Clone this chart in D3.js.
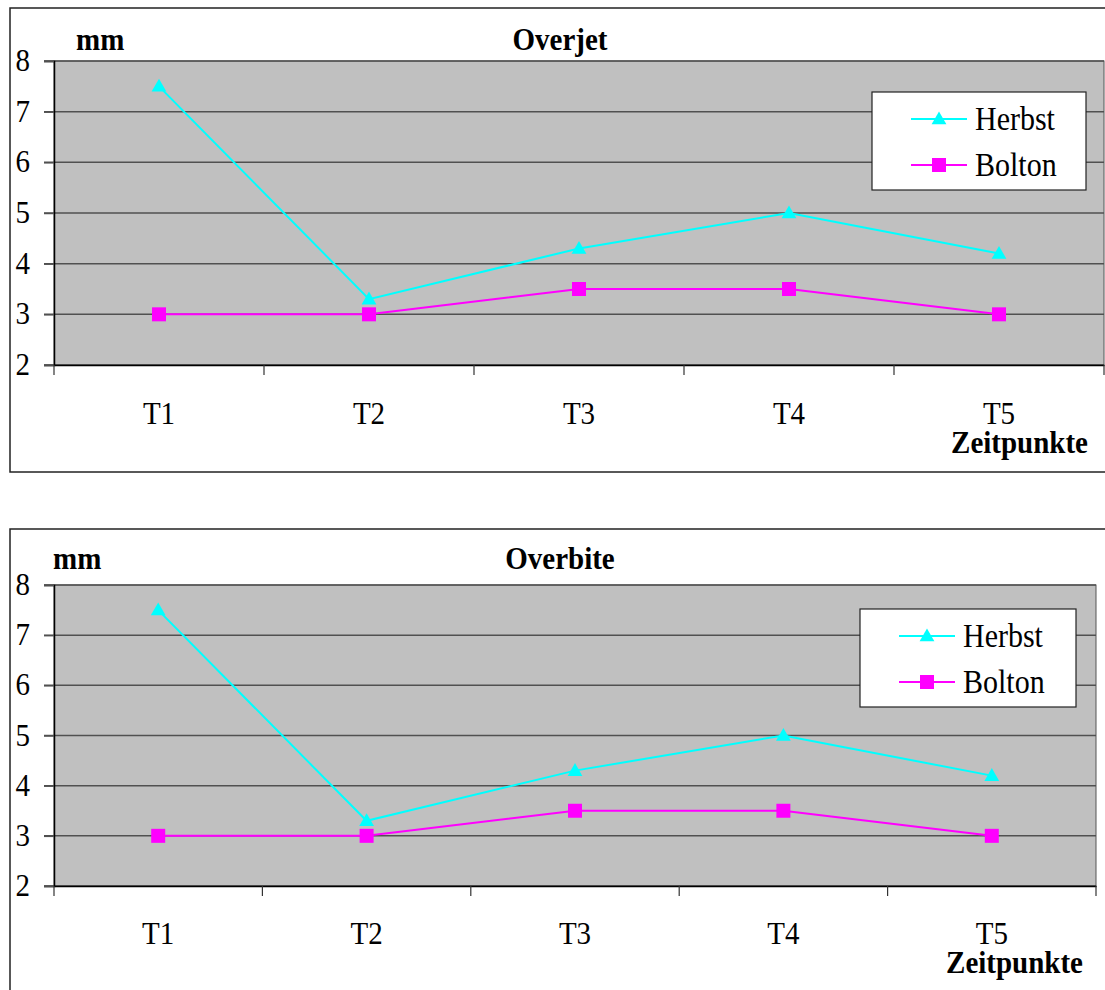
<!DOCTYPE html>
<html><head><meta charset="utf-8">
<script src="https://cdn.jsdelivr.net/npm/d3@7"></script>
<style>
html,body{margin:0;padding:0;background:#fff;}
svg{display:block;}
svg text{font-family:'Liberation Serif','Tinos','Times New Roman',Times,'DejaVu Serif',serif !important;fill:#000;}
</style></head>
<body>
<svg id="chart" width="1105" height="990"></svg>
<script>
const categories = ["T1","T2","T3","T4","T5"];
const herbst = [7.5, 3.3, 4.3, 5.0, 4.2];
const bolton = [3.0, 3.0, 3.5, 3.5, 3.0];
const seriesNames = ["Herbst","Bolton"];
const yTicks = [2,3,4,5,6,7,8];
const chartTitles = ["Overjet","Overbite"];
const yUnit = "mm";
const xTitle = "Zeitpunkte";

const layouts = [
  {box:[10,8,1110,464], plot:{l:54,t:61,r:1104,b:365}, titleY:50, mmX:76, legend:[872,92,214,98], tY:424, zeitY:453, zeitX:1088},
  {box:[10,529,1110,480], plot:{l:54,t:585,r:1096,b:886}, titleY:569, mmX:53, legend:[860,609,216,98], tY:944, zeitY:973, zeitX:1083}
];

const svg = d3.select("#chart");
const FS = 29;
const SY = 1.1;
const FAM = "'Liberation Serif','Tinos','Times New Roman',Times,'DejaVu Serif',serif";
const colors = {Herbst:"#00ffff", Bolton:"#ff00ff"};

function marker(g, type, x, y){
  if(type==="Herbst"){
    g.append("path").attr("d", d3.symbol().type(d3.symbolTriangle).size(95)())
      .attr("transform",`translate(${x},${y+1})`).attr("fill",colors.Herbst);
  } else {
    g.append("rect").attr("x",x-7).attr("y",y-7).attr("width",14).attr("height",14).attr("fill",colors.Bolton);
  }
}

function txt(g, x, y, s, opts={}){
  return g.append("text").attr("x",0).attr("y",0)
    .attr("transform",`translate(${x},${y}) scale(1,${SY})`)
    .attr("font-family",FAM).attr("font-size",opts.size||FS)
    .attr("font-weight",opts.bold?"bold":"normal")
    .attr("text-anchor",opts.anchor||"start").text(s);
}

layouts.forEach((L, i) => {
  const g = svg.append("g");
  const p = L.plot;
  g.append("rect").attr("x",L.box[0]).attr("y",L.box[1]).attr("width",L.box[2]).attr("height",L.box[3])
    .attr("fill","#fff").attr("stroke","#222").attr("stroke-width",1.5);

  const x = d3.scaleBand().domain(categories).range([p.l,p.r]);
  const y = d3.scaleLinear().domain([2,8]).range([p.b,p.t]);

  g.append("rect").attr("x",p.l).attr("y",p.t).attr("width",p.r-p.l).attr("height",p.b-p.t)
    .attr("fill","#c0c0c0").attr("stroke","#555").attr("stroke-width",1);

  // gridlines
  g.append("g").selectAll("line").data(yTicks).join("line")
    .attr("x1",p.l-10).attr("x2",p.r).attr("y1",d=>y(d)).attr("y2",d=>y(d))
    .attr("stroke","#505050").attr("stroke-width",1.5);

  // y axis
  const ya = g.append("g").attr("transform",`translate(${p.l},0)`)
    .call(d3.axisLeft(y).tickValues(yTicks).tickSize(10).tickFormat(""));
  ya.select(".domain").attr("stroke","#000").attr("stroke-width",1.5);
  ya.selectAll(".tick line").attr("stroke","#505050").attr("stroke-width",1.5);
  yTicks.forEach(t => txt(g, p.l-24, y(t)+10, d3.format("d")(t), {anchor:"end"}));

  // x axis
  const xa = g.append("g").attr("transform",`translate(0,${p.b})`)
    .call(d3.axisBottom(x).tickSize(0).tickFormat(""));
  xa.select(".domain").attr("stroke","#000").attr("stroke-width",1.5);
  const bounds = categories.map(c=>x(c)).concat([p.r]);
  g.append("g").selectAll("line").data(bounds).join("line")
    .attr("x1",d=>d).attr("x2",d=>d).attr("y1",p.b).attr("y2",p.b+10)
    .attr("stroke","#333").attr("stroke-width",1.2);
  categories.forEach(c => txt(g, x(c)+x.bandwidth()/2, L.tY, c, {anchor:"middle"}));

  // titles
  txt(g, 560, L.titleY, chartTitles[i], {anchor:"middle", bold:true});
  txt(g, L.mmX, L.titleY, yUnit, {bold:true});
  txt(g, L.zeitX, L.zeitY, xTitle, {anchor:"end", bold:true});

  // lines
  const cx = d => x(d)+x.bandwidth()/2;
  const line = d3.line().x((d,j)=>cx(categories[j])).y(d=>y(d));
  [["Herbst",herbst],["Bolton",bolton]].forEach(([name,vals])=>{
    g.append("path").datum(vals).attr("d",line).attr("fill","none")
      .attr("stroke",colors[name]).attr("stroke-width",2);
    vals.forEach((v,j)=>marker(g,name,cx(categories[j]),y(v)));
  });

  // legend
  const [lx,ly,lw,lh] = L.legend;
  g.append("rect").attr("x",lx).attr("y",ly).attr("width",lw).attr("height",lh)
    .attr("fill","#fff").attr("stroke","#222").attr("stroke-width",1.2);
  seriesNames.forEach((name,k)=>{
    const ry = ly + 27 + k*46;
    g.append("line").attr("x1",lx+39).attr("x2",lx+95).attr("y1",ry).attr("y2",ry)
      .attr("stroke",colors[name]).attr("stroke-width",2);
    marker(g,name,lx+67,ry);
    txt(g, lx+103, ry+11, name, {size:FS+1});
  });
});
</script>
</body></html>
